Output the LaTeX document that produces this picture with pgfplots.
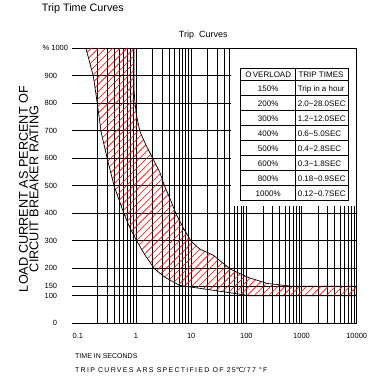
\documentclass[border=0pt]{standalone}
\usepackage{fontspec}
\setmainfont{Liberation Sans}
\newfontfamily\dejavu{DejaVu Sans}
\usepackage{pgfplots}
\pgfplotsset{compat=1.18}
\usetikzlibrary{patterns}
\pgfdeclarepatternformonly{hatchseven}{\pgfqpoint{-1pt}{-1pt}}{\pgfqpoint{8.2pt}{8.2pt}}{\pgfqpoint{7.2pt}{7.2pt}}{%
  \pgfsetlinewidth{0.6pt}\pgfpathmoveto{\pgfqpoint{0pt}{0pt}}\pgfpathlineto{\pgfqpoint{7.3pt}{7.3pt}}\pgfusepath{stroke}}

% lower (fast-trip) boundary
\pgfplotstableread{
x y
0.123 1000
0.168 898
0.199 797
0.232 696
0.302 596
0.40 499
0.492 448
0.607 397
0.778 346
1.03 299
1.45 248
2.18 197
3.29 168
6.1 138
14.2 127
33.8 116
80 105
114 100
10000 100
}\lowercurve

% upper (slow-trip) boundary
\pgfplotstableread{
x y
0.92 1000
0.92 847
0.96 797
1.04 746
1.18 696
1.51 648
2.04 596
2.68 550
3.29 499
4.22 448
5.32 397
7.2 346
9.9 299
14.2 270
24.9 248
52 196
107 167
236 145
638 135
10000 135
}\uppercurve

% trip band outline: lower boundary forward, upper boundary back
\pgfplotstableread{
x y
0.123 1000
0.168 898
0.199 797
0.232 696
0.302 596
0.40 499
0.492 448
0.607 397
0.778 346
1.03 299
1.45 248
2.18 197
3.29 168
6.1 138
14.2 127
33.8 116
80 105
114 100
10000 100
10000 135
638 135
236 145
107 167
52 196
24.9 248
14.2 270
9.9 299
7.2 346
5.32 397
4.22 448
3.29 499
2.68 550
2.04 596
1.51 648
1.18 696
1.04 746
0.96 797
0.92 847
0.92 1000
}\bandoutline

\begin{document}
\begin{tikzpicture}
\path (0pt,0pt) rectangle (368pt,377pt);
\begin{axis}[
  scale only axis,
  width=284.7pt, height=275.3pt,
  at={(72pt,53.7pt)}, anchor=south west,
  xmode=log, xmin=0.069, xmax=10000, ymin=0, ymax=1000,
  axis line style={draw=none},
  tick style={draw=none},
  xtick={1,10,100,1000,10000},
  xticklabels={1,10,100,1000,10000},
  minor xtick={0.2,0.3,0.4,0.5,0.6,0.7,0.8,0.9,2,3,4,5,6,7,8,9,20,30,40,50,60,70,80,90,200,300,400,500,600,700,800,900,2000,3000,4000,5000,6000,7000,8000,9000},
  extra x ticks={0.1}, extra x tick labels={0.1},
  extra x tick style={grid=none, xticklabel style={xshift=-3pt}},
  ytick={0,100,135,200,300,400,500,600,700,800,900,1000},
  yticklabels={0,100,150,200,300,400,500,600,700,800,900,{}},
  extra y ticks={1000}, extra y tick labels={\% 1000},
  extra y tick style={grid=major, yticklabel style={xshift=11pt}},
  xmajorgrids, xminorgrids, ymajorgrids,
  major grid style={black, line width=0.8pt},
  minor grid style={black, line width=0.8pt},
  /pgf/number format/assume math mode=true,
  ticklabel style={font=\fontsize{7.5}{9}\selectfont},
  xticklabel style={anchor=base, yshift=-15pt},
  yticklabel style={anchor=east, inner sep=0pt, xshift=-14.7pt},
]
\addplot[draw=none, pattern=hatchseven, pattern color=red] table[x=x,y=y] {\bandoutline} -- cycle;
\addplot[black, line width=0.7pt] table[x=x,y=y] {\lowercurve};
\addplot[black, line width=0.7pt] table[x=x,y=y] {\uppercurve};
\end{axis}

% legend table box
\fill[white] (231pt,171pt) rectangle (356.3pt,328.6pt);
\draw[line width=0.8pt] (230pt,329pt) -- (356.7pt,329pt);
\draw[line width=0.8pt] (356.7pt,171pt) -- (356.7pt,329pt);
\begin{scope}[line width=0.8pt]
\draw (240.7pt,176.3pt) rectangle (348.7pt,308.7pt);
\draw (295.7pt,176.3pt) -- (295.7pt,308.7pt);
\foreach \k in {0,...,7} {
  \draw (240.7pt,{296.7pt-\k*15.05pt}) -- (348.7pt,{296.7pt-\k*15.05pt});
}
\end{scope}
\begin{scope}[font=\fontsize{8}{9}\selectfont, inner sep=0pt]
\node[anchor=base] at (268.2pt,299.5pt) {O\,VERLOAD};
\node[anchor=base] at (321pt,299.5pt) {TRIP TIMES};
\foreach \p/\t [count=\i from 0] in {150\%/Trip in a hour, 200\%/2.0\textasciitilde28.0SEC, 300\%/1.2\textasciitilde12.0SEC, 400\%/0.6\textasciitilde5.0SEC, 500\%/0.4\textasciitilde2.8SEC, 600\%/0.3\textasciitilde1.8SEC, 800\%/0.18\textasciitilde0.9SEC, 1000\%/0.12\textasciitilde0.7SEC} {
  \node[anchor=base] at (268.2pt,{285.8pt-\i*15.05pt}) {\p};
  \node[anchor=base west] at (297.6pt,{285.8pt-\i*15.05pt}) {\t};
}
\end{scope}

% titles and labels
\node[anchor=base west, inner sep=0pt, font=\fontsize{10.8}{12}\selectfont] at (41.7pt,365.3pt) {Trip Time Curves};
\node[anchor=base, inner sep=0pt, font=\fontsize{9}{10}\selectfont] at (203.3pt,339.7pt) {Trip\ \ Curves};
\node[rotate=90, align=center, inner sep=0pt, font=\fontsize{12.7}{10.5}\selectfont] at (28.8pt,188pt) {LOAD CURRENT AS PERCENT OF\\CIRCUIT BREAKER RATING};
\node[anchor=base west, inner sep=0pt, font=\fontsize{7}{8}\selectfont] at (75pt,18.5pt) {TIME IN SECONDS};
\node[anchor=base west, inner sep=0pt, font=\fontsize{7}{8}\selectfont\addfontfeature{LetterSpace=18}] at (75pt,4.2pt) {TRIP CURVES ARS SPECTIFIED OF 25{\dejavu ℃}/77 °F};
\end{tikzpicture}
\end{document}
